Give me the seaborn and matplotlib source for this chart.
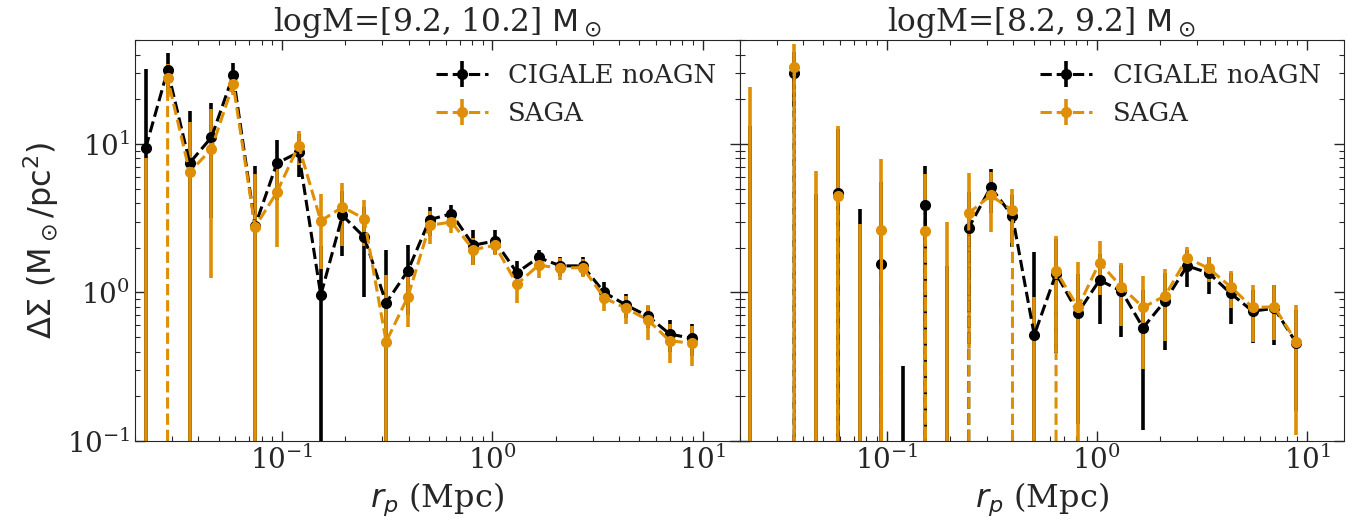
import matplotlib

matplotlib.use("Agg")
import matplotlib.pyplot as plt
import seaborn as sns

# radial bins (Mpc)
rp = [0.0225, 0.0286, 0.0364, 0.0462, 0.0586, 0.0745, 0.0946, 0.120, 0.153,
      0.194, 0.246, 0.313, 0.397, 0.504, 0.640, 0.813, 1.03, 1.31, 1.66,
      2.11, 2.69, 3.41, 4.33, 5.50, 6.98, 8.87]

# logM = [9.2, 10.2]
hi_cigale = [9.4, 31.4, 7.45, 11.07, 29.0, 2.8, 7.41, 8.78, 0.96, 3.30, 2.36,
             0.851, 1.40, 3.09, 3.39, 2.08, 2.22, 1.36, 1.72, 1.51, 1.51, 1.00,
             0.822, 0.693, 0.525, 0.491]
hi_cigale_err = [22.5, 9.8, 9.1, 7.9, 5.8, 4.35, 3.2, 2.8, 1.1, 1.55, 1.43,
                 1.07, 0.7, 0.7, 0.5, 0.55, 0.4, 0.27, 0.2, 0.22, 0.22, 0.17,
                 0.15, 0.12, 0.13, 0.12]
hi_saga = [-5.0, 27.6, 6.45, 9.25, 25.3, 2.76, 4.73, 9.74, 3.03, 3.76, 3.14,
           0.466, 0.934, 2.83, 2.98, 1.94, 2.08, 1.137, 1.525, 1.46, 1.47,
           0.92, 0.781, 0.652, 0.473, 0.455]
hi_saga_err = [13.1, 6.8, 7.5, 8.0, 4.0, 3.5, 2.7, 2.5, 1.6, 1.7, 1.07, 0.84,
               0.35, 0.7, 0.47, 0.4, 0.3, 0.29, 0.28, 0.25, 0.2, 0.17, 0.17,
               0.17, 0.14, 0.135]

# logM = [8.2, 9.2]  (negative values fall off the log axis)
lo_cigale = [-5.0, -5.0, 29.8, -3.0, 4.69, -3.0, 1.565, -2.0, 3.85, -2.0,
             2.73, 5.11, 3.27, 0.517, 1.34, 0.73, 1.21, 1.02, 0.579, 0.878,
             1.51, 1.35, 0.985, 0.749, 0.781, 0.459]
lo_cigale_err = [18.3, 1.0, 12.0, 7.6, 8.0, 6.66, 4.0, 2.32, 3.3, 3.5, 2.0,
                 1.7, 1.25, 1.36, 0.95, 0.6, 0.6, 0.52, 0.46, 0.47, 0.42,
                 0.37, 0.37, 0.29, 0.34, 0.3]
lo_saga = [-5.0, -5.0, 33.2, -3.0, 4.45, -3.0, 2.62, -3.0, 2.58, -3.0, 3.42,
           4.50, 3.57, -1.0, 1.40, 0.793, 1.59, 1.09, 0.793, 0.949, 1.71,
           1.45, 1.09, 0.793, 0.80, 0.466]
lo_saga_err = [29.0, 1.0, 13.7, 9.62, 8.85, 5.9, 5.3, 1.0, 3.7, 5.98, 3.0,
               1.95, 1.42, 1.934, 1.0, 0.8, 0.63, 0.5, 0.49, 0.48, 0.3, 0.28,
               0.31, 0.33, 0.32, 0.356]

titles = ["logM=[9.2, 10.2] $\\rm M_\\odot$", "logM=[8.2, 9.2] $\\rm M_\\odot$"]
labels = ["CIGALE noAGN", "SAGA"]

sns.set_style("ticks")
plt.rcParams["font.family"] = "serif"
plt.rcParams["font.serif"] = ["DejaVu Serif"]
plt.rcParams["mathtext.fontset"] = "dejavusans"

orange = sns.color_palette("colorblind")[1]

fig, axes = plt.subplots(1, 2, figsize=(13.66, 5.21), dpi=100, sharey=True)
fig.subplots_adjust(left=0.0988, right=0.984, bottom=0.1536, top=0.923, wspace=0)

panels = [
    (hi_cigale, hi_cigale_err, hi_saga, hi_saga_err),
    (lo_cigale, lo_cigale_err, lo_saga, lo_saga_err),
]

for ax, title, (c, ce, s, se) in zip(axes, titles, panels):
    ax.set_xscale("log")
    ax.set_yscale("log")
    ax.errorbar(rp, c, yerr=ce, fmt="o--", color="k", ms=7, lw=2.2,
                elinewidth=2.6, label=labels[0])
    ax.errorbar(rp, s, yerr=se, fmt="o--", color=orange, ms=7, lw=2.2,
                elinewidth=2.6, label=labels[1])
    ax.set_xlim(0.02, 15)
    ax.set_ylim(0.1, 50)
    ax.set_title(title, fontsize=22.5, pad=5)
    ax.set_xlabel("$r_p$ (Mpc)", fontsize=23)
    ax.tick_params(which="both", direction="in", top=True, right=True,
                   labelsize=20)
    ax.tick_params(which="major", length=7, width=1)
    ax.tick_params(which="minor", length=3.5, width=0.8)
    ax.legend(loc="upper right", frameon=False, fontsize=18.6)

axes[0].set_ylabel(r"$\Delta\Sigma\ (\rm M_\odot/pc^2)$", fontsize=23)

fig.savefig("out.png", dpi=100)
